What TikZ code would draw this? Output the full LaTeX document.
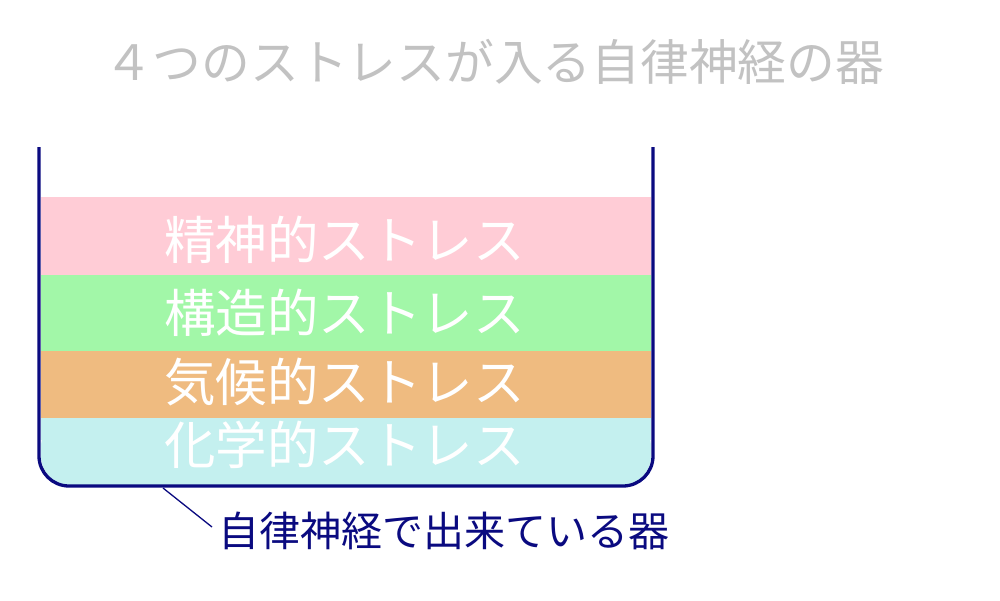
\documentclass[tikz,border=0pt]{standalone}
\usepackage{fontspec}
\setmainfont{Noto Sans CJK JP}
\definecolor{navy}{HTML}{0A0A80}
\definecolor{titlegray}{HTML}{C2C2C2}
\definecolor{bandpink}{HTML}{FFCCD6}
\definecolor{bandgreen}{HTML}{A2F7A8}
\definecolor{bandorange}{HTML}{EFBB80}
\definecolor{bandcyan}{HTML}{C4F0EF}
\tikzset{
  title/.style={text=titlegray, font=\fontsize{48.75}{50}\selectfont, inner sep=0pt},
  stresstext/.style={text=white, font=\fontsize{51.5}{53}\selectfont, anchor=west, inner sep=0pt},
  vessel/.style={draw=navy, line width=3.3pt, rounded corners=30pt},
  lbl/.style={text=navy, font=\fontsize{41}{43}\selectfont, anchor=west, inner sep=0pt},
  leader/.style={draw=navy, line width=1.3pt}
}
\begin{document}
\begin{tikzpicture}[x=1pt,y=-1pt]
\useasboundingbox (0,0) rectangle (1000,600);
\fill[white] (0,0) rectangle (1000,600);
% bands
\fill[bandpink] (41,197) rectangle (651,275);
\fill[bandgreen] (41,275) rectangle (651,351);
\fill[bandorange] (41,351) rectangle (651,418);
\fill[bandcyan, rounded corners=29pt] (41,418) -- (41,485) -- (651,485) -- (651,418) -- cycle;
\fill[bandcyan] (41,418) rectangle (651,440);
% vessel
\draw[vessel] (39,147) -- (39,486) -- (653,486) -- (653,147);
% title
\node[title] (ttl) at (494,62) {４つのストレスが入る自律神経の器};
% texts
\node[stresstext] (s1) at (164,240) {精神的ストレス};
\node[stresstext] (s2) at (164,313) {構造的ストレス};
\node[stresstext] (s3) at (164,382) {気候的ストレス};
\node[stresstext] (s4) at (164,445) {化学的ストレス};
% label
\node[lbl] (label) at (218,531) {自律神経で出来ている器};
\coordinate (lead) at (163,488);
\coordinate (leadend) at (212,527);
\draw[leader] (lead) -- (leadend);
\end{tikzpicture}
\end{document}
